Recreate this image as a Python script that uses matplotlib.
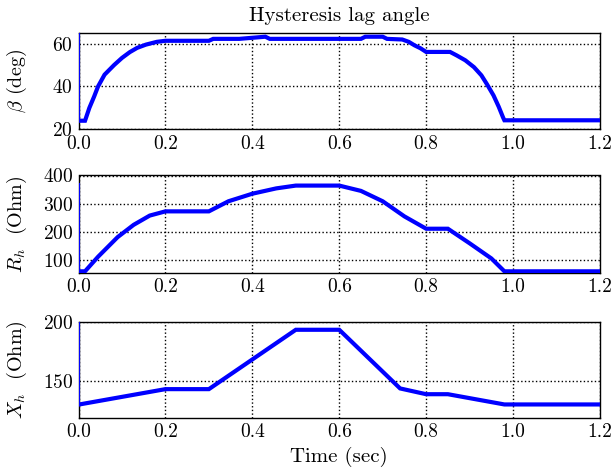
import matplotlib
matplotlib.use("Agg")
import matplotlib.pyplot as plt

plt.rcParams["font.family"] = "serif"
plt.rcParams["font.serif"] = ["cmr10"]
plt.rcParams["mathtext.fontset"] = "cm"
plt.rcParams["axes.formatter.use_mathtext"] = True
plt.rcParams["font.size"] = 14

# hysteresis lag angle beta (deg)
t_beta = [0.002, 0.002, 0.015, 0.025, 0.036, 0.045, 0.06, 0.082, 0.1, 0.118, 0.135,
          0.155, 0.18, 0.2, 0.3, 0.31, 0.37, 0.43, 0.44, 0.65, 0.66, 0.7, 0.71,
          0.745, 0.76, 0.773, 0.787, 0.8, 0.855, 0.87, 0.89, 0.91, 0.927, 0.94,
          0.955, 0.967, 0.977, 0.98, 1.2]
beta = [64.5, 24.0, 24.0, 30.0, 35.3, 40.0, 45.5, 50.0, 53.3, 56.0, 58.0,
        59.5, 60.8, 61.3, 61.3, 62.2, 62.2, 63.2, 62.2, 62.2, 63.2, 63.2, 62.2,
        61.9, 60.8, 59.2, 57.8, 56.1, 56.1, 54.5, 52.2, 49.0, 45.2, 41.0,
        35.8, 30.5, 25.5, 24.2, 24.2]

# hysteresis resistance Rh (Ohm)
t_rh = [0.002, 0.002, 0.015, 0.045, 0.09, 0.127, 0.164, 0.2, 0.3, 0.345, 0.4,
        0.455, 0.5, 0.6, 0.65, 0.7, 0.75, 0.8, 0.85, 0.9, 0.95, 0.98, 1.2]
rh = [370, 58, 58, 110, 180, 224, 257, 272, 272, 308, 335,
      354, 364, 364, 345, 308, 254, 210, 210, 158, 104, 58, 58]

# hysteresis reactance Xh (Ohm)
t_xh = [0.002, 0.002, 0.2, 0.3, 0.5, 0.6, 0.74, 0.8, 0.85, 0.98, 1.2]
xh = [200, 130, 143, 143, 193.4, 193.4, 143.6, 138.7, 138.7, 130, 130]

x_ticks = [0.0, 0.2, 0.4, 0.6, 0.8, 1.0, 1.2]

fig = plt.figure(figsize=(6.16, 4.73), dpi=100)

W, H = 616.0, 473.0
left, right = 78.5, 600.0


def make_axes(top, bottom):
    return fig.add_axes([left / W, 1 - bottom / H, (right - left) / W, (bottom - top) / H])


ax1 = make_axes(33.5, 129.3)
ax2 = make_axes(175.5, 273.0)
ax3 = make_axes(322.0, 418.0)

panels = [
    (ax1, t_beta, beta, (20, 64.7), [20, 40, 60], r"$\beta$ (deg)"),
    (ax2, t_rh, rh, (52, 400), [100, 200, 300, 400], r"$R_h$  (Ohm)"),
    (ax3, t_xh, xh, (118.5, 200), [150, 200], r"$X_h$  (Ohm)"),
]

for ax, t, y, ylim, yticks, label in panels:
    # thin initial transient at t=0, then the main trace
    ax.plot(t[:2], y[:2], color="#0000ff", lw=1.5, zorder=3)
    ax.plot(t[1:], y[1:], color="#0000ff", lw=3.0, solid_joinstyle="miter", zorder=3)
    ax.set_xlim(0, 1.2)
    ax.set_ylim(*ylim)
    ax.set_xticks(x_ticks)
    ax.set_xticklabels([f"{v:.1f}" for v in x_ticks])
    ax.set_yticks(yticks)
    ax.grid(True, color="black", linestyle=":", linewidth=1.0)
    ax.tick_params(length=0, pad=4, labelsize=14)
    for s in ax.spines.values():
        s.set_linewidth(1.0)
    ax.set_ylabel(label, fontsize=14.5)
    ax.yaxis.set_label_coords(-0.095, 0.5)

fig.text((left + right) / 2 / W, 1 - 16 / H, "Hysteresis lag angle",
         ha="center", va="center", fontsize=15)
fig.text((left + right) / 2 / W, 1 - 457 / H, "Time (sec)",
         ha="center", va="center", fontsize=15)

fig.savefig("out.png", dpi=100)
